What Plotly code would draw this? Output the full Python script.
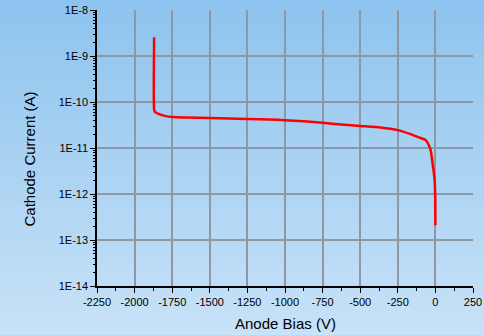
import plotly.graph_objects as go

# ---- data ----
bias_v = [-1870, -1870, -1866, -1859, -1845, -1832, -1800, -1750, -1650, -1500, -1250,
          -1100, -1000, -875, -750, -625, -500, -365, -250, -165, -99, -65, -52, -32, -19, -5, -1, 0]
current_a = [2.55e-9, 6.7e-11, 6.2e-11, 5.9e-11, 5.6e-11, 5.4e-11, 5.0e-11, 4.72e-11, 4.6e-11,
             4.49e-11, 4.27e-11, 4.15e-11, 4.03e-11, 3.8e-11, 3.52e-11, 3.25e-11, 3.02e-11, 2.8e-11,
             2.45e-11, 2.0e-11, 1.65e-11, 1.5e-11, 1.3e-11, 9.1e-12, 4.7e-12, 2.0e-12, 8e-13, 2.1e-13]

x_ticks = [-2250, -2000, -1750, -1500, -1250, -1000, -750, -500, -250, 0, 250]
x_ticktext = ["-2250", "-2000", "-1750", "-1500", "-1250", "-1000", "-750", "-500", "-250", "0", "250"]
y_ticks = [1e-14, 1e-13, 1e-12, 1e-11, 1e-10, 1e-9, 1e-8]
y_ticktext = ["1E-14", "1E-13", "1E-12", "1E-11", "1E-10", "1E-9", "1E-8"]

W, H = 484, 335
ML, MR, MT, MB = 97, 11, 10, 49
pw, ph = W - ML - MR, H - MT - MB

fig = go.Figure()
fig.add_trace(go.Scatter(x=bias_v, y=current_a, mode="lines",
                         line=dict(color="#ff0000", width=2.5, shape="spline", smoothing=0.6),
                         showlegend=False))

# gradient background as stacked strips in paper coords
top = (141, 195, 238)
bot = (200, 226, 247)
n = 70
shapes = []
x0p = -ML / pw
x1p = (W - ML) / pw
for i in range(n):
    t0 = i / n
    t1 = (i + 1) / n
    c = tuple(round(top[k] + (bot[k] - top[k]) * (t0 + t1) / 2) for k in range(3))
    ypx0 = t0 * H
    ypx1 = t1 * H + 0.6
    yp_top = 1 - (ypx0 - MT) / ph
    yp_bot = 1 - (ypx1 - MT) / ph
    shapes.append(dict(type="rect", xref="paper", yref="paper", x0=x0p, x1=x1p,
                       y0=yp_bot, y1=yp_top, fillcolor="rgb(%d,%d,%d)" % c,
                       line=dict(width=0), layer="below"))

font = "Liberation Sans, Arial, sans-serif"
grid_col = "#8c98a4"

fig.update_layout(
    width=W, height=H, autosize=False,
    margin=dict(l=ML, r=MR, t=MT, b=MB, pad=0, autoexpand=False),
    paper_bgcolor="rgb(170,210,242)",
    plot_bgcolor="rgba(0,0,0,0)",
    shapes=shapes,
    font=dict(family=font, color="#000000", size=11),
    xaxis=dict(range=[-2250, 250], tickmode="array", tickvals=x_ticks, ticktext=x_ticktext,
               automargin=False,
               showline=True, linecolor="#000000", linewidth=1.5,
               ticks="outside", ticklen=5, tickwidth=1.2, tickcolor="#000000",
               showgrid=True, gridcolor=grid_col, gridwidth=1.5, zeroline=False,
               minor=dict(ticks="outside", ticklen=3, tickwidth=1, tickcolor="#000000",
                          tickvals=[-2125, -1875, -1625, -1375, -1125, -875, -625, -375, -125, 125],
                          showgrid=False),
               tickfont=dict(size=11), fixedrange=True),
    yaxis=dict(type="log", range=[-14, -8], tickmode="array", tickvals=y_ticks, ticktext=y_ticktext,
               automargin=False,
               showline=True, linecolor="#000000", linewidth=1.5,
               ticks="outside", ticklen=5, tickwidth=1.2, tickcolor="#000000",
               showgrid=True, gridcolor=grid_col, gridwidth=1.5, zeroline=False,
               minor=dict(ticks="outside", ticklen=2.5, tickwidth=1, tickcolor="#000000",
                          dtick="D1", showgrid=False),
               tickfont=dict(size=11), fixedrange=True),
    annotations=[
        dict(text="Anode Bias (V)", xref="paper", yref="paper",
             x=0.5, y=-(323 - (MT + ph)) / ph, xanchor="center", yanchor="middle",
             showarrow=False, font=dict(size=15, family=font)),
        dict(text="Cathode Current (A)", xref="paper", yref="paper", textangle=-90,
             x=(28.5 - ML) / pw, y=1 - (159 - MT) / ph, xanchor="center", yanchor="middle",
             showarrow=False, font=dict(size=15, family=font)),
    ],
)

fig.write_html("out.html", config={"displayModeBar": False},
               post_script="document.body.style.margin='0';document.body.style.overflow='hidden';")
